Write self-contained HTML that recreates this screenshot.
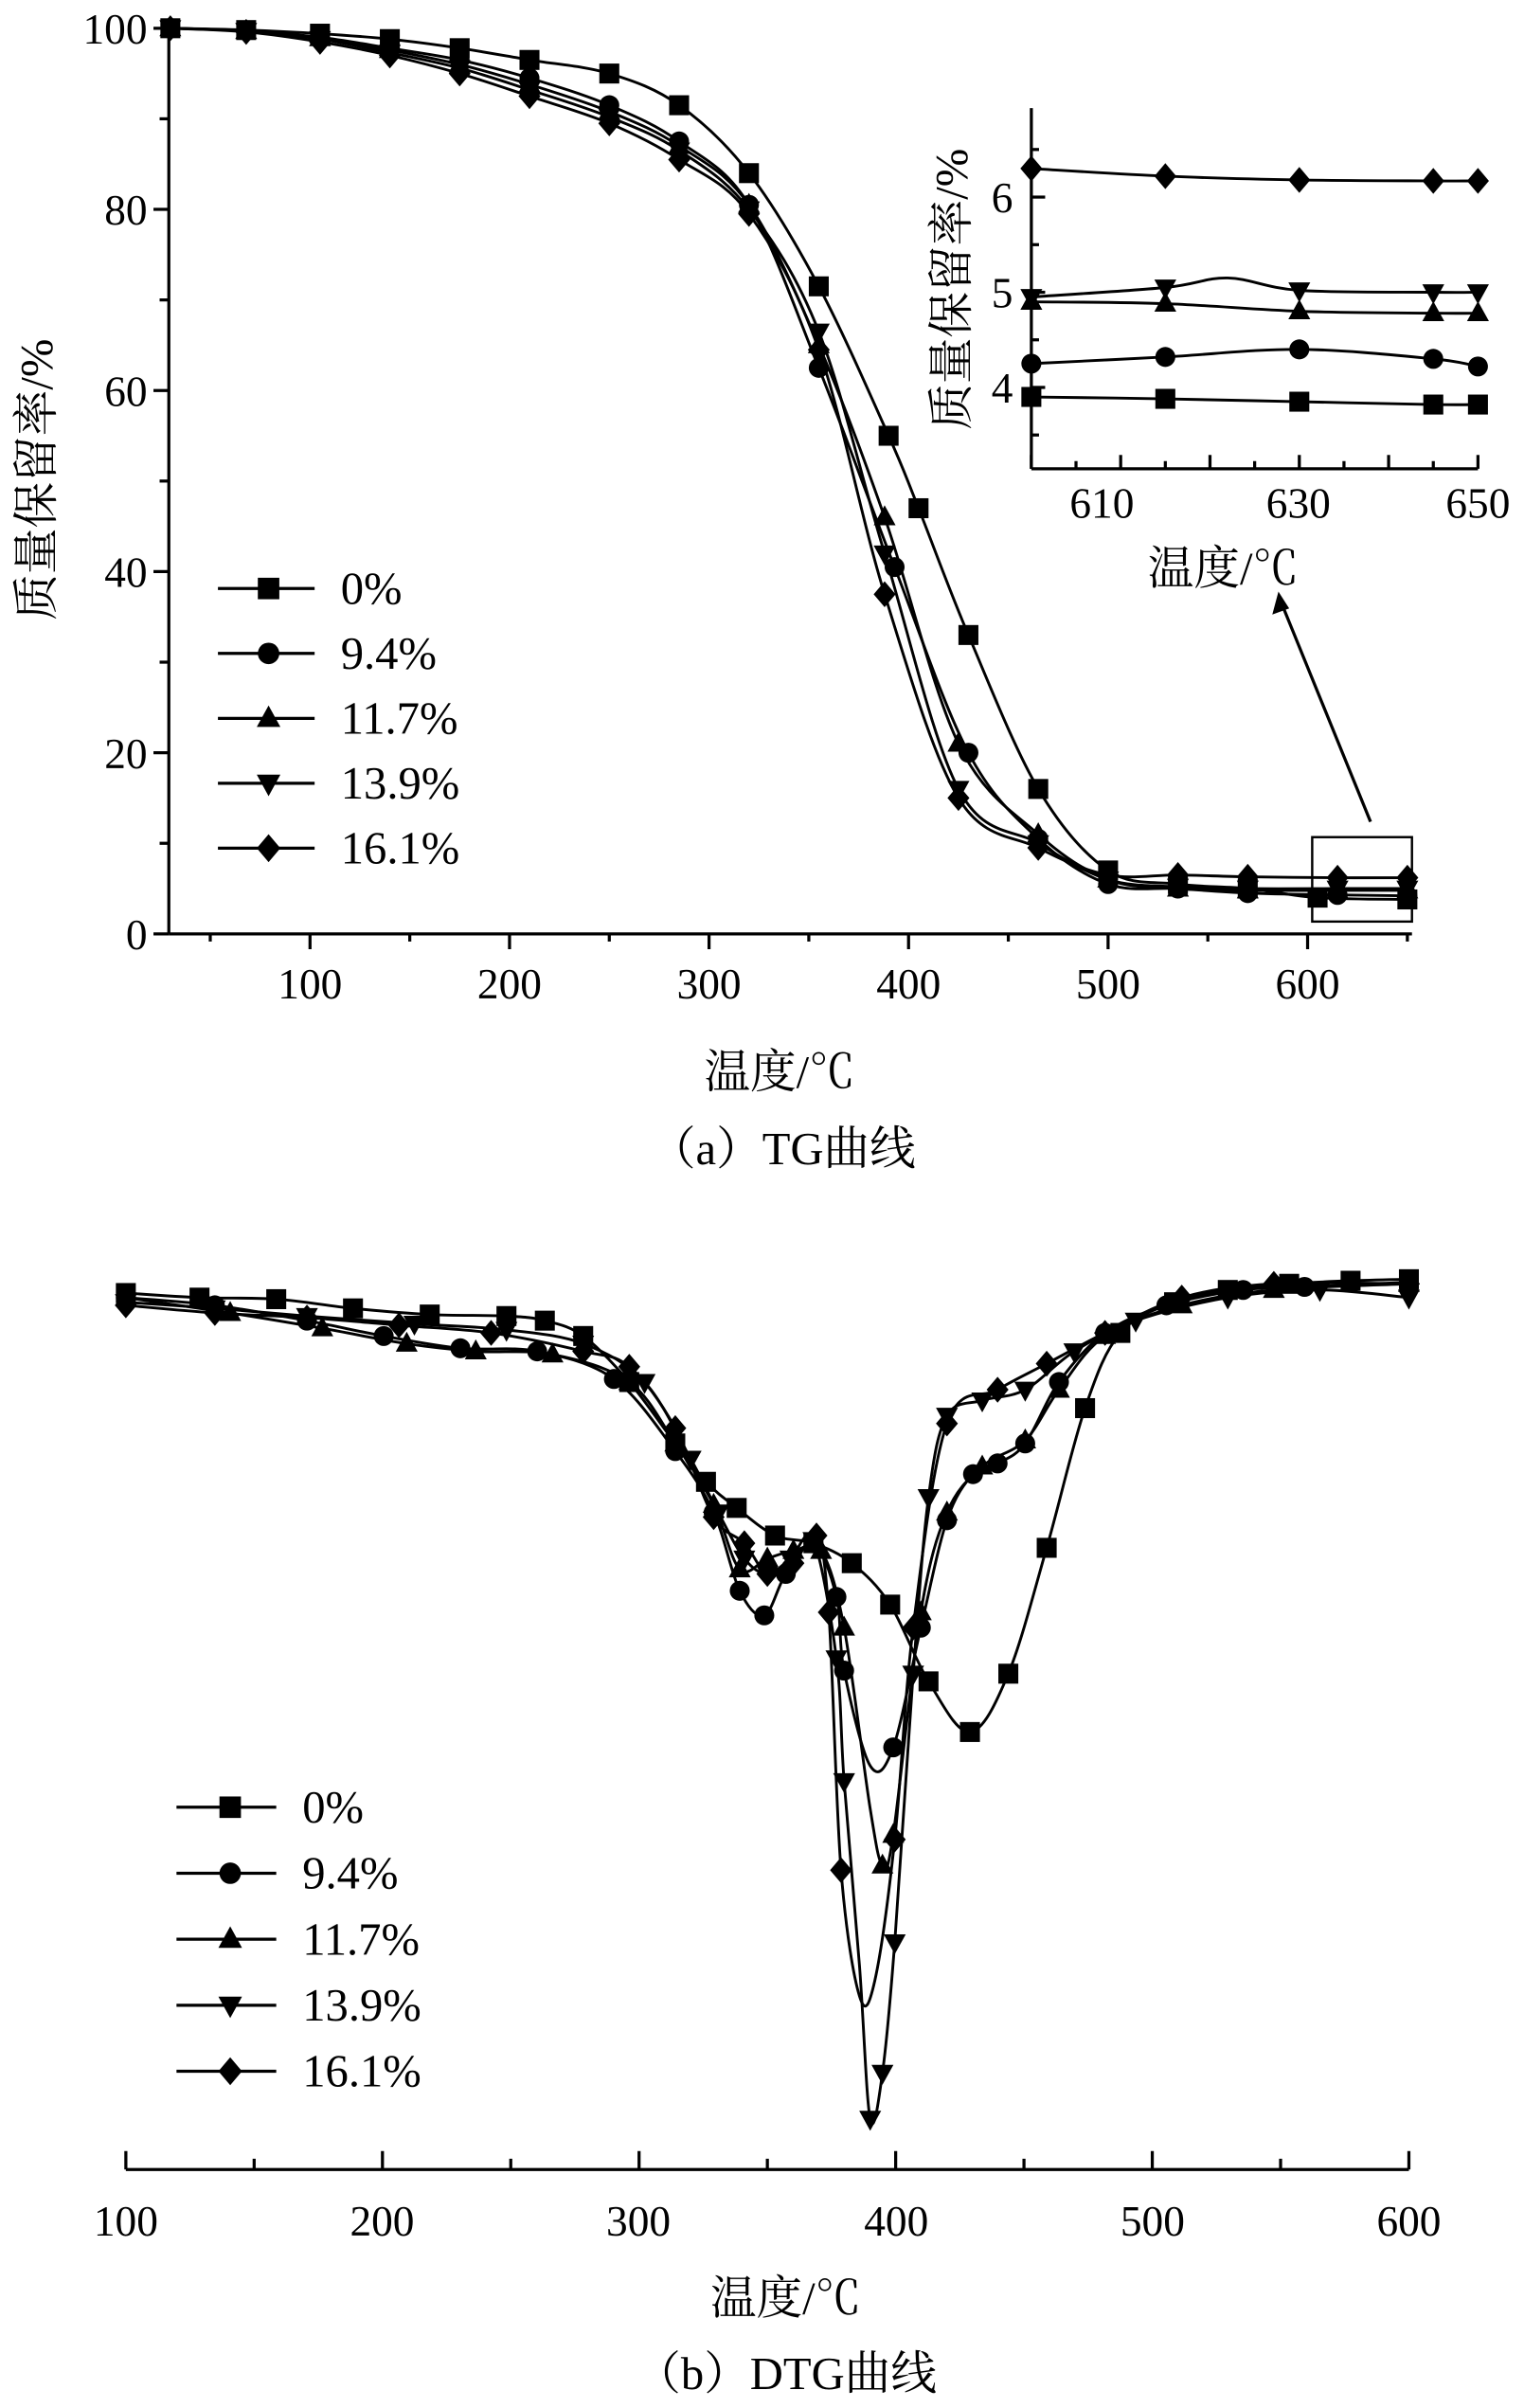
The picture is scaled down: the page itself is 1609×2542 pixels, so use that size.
<!DOCTYPE html>
<html><head><meta charset="utf-8">
<style>
html,body{margin:0;padding:0;background:#fff;}
svg{display:block;}
text{font-family:"Liberation Serif","Noto Serif CJK SC","Noto Sans CJK SC",serif;fill:#000;}
</style></head>
<body>
<svg id="s" width="1609" height="2542" viewBox="0 0 993 1568" xmlns="http://www.w3.org/2000/svg">
<g id="g" stroke="#000" fill="none" stroke-width="2"></g>
<g font-size="28">
<text x="202" y="650" text-anchor="middle">100</text>
<text x="332" y="650" text-anchor="middle">200</text>
<text x="462" y="650" text-anchor="middle">300</text>
<text x="592" y="650" text-anchor="middle">400</text>
<text x="722" y="650" text-anchor="middle">500</text>
<text x="852" y="650" text-anchor="middle">600</text>
<text x="96" y="28" text-anchor="end">100</text>
<text x="96" y="146" text-anchor="end">80</text>
<text x="96" y="264" text-anchor="end">60</text>
<text x="96" y="382" text-anchor="end">40</text>
<text x="96" y="500" text-anchor="end">20</text>
<text x="96" y="618" text-anchor="end">0</text>
<text x="718" y="337" text-anchor="middle">610</text>
<text x="846" y="337" text-anchor="middle">630</text>
<text x="963" y="337" text-anchor="middle">650</text>
<text x="660" y="262" text-anchor="end">4</text>
<text x="660" y="200" text-anchor="end">5</text>
<text x="660" y="138" text-anchor="end">6</text>
<text x="82" y="1456" text-anchor="middle">100</text>
<text x="249" y="1456" text-anchor="middle">200</text>
<text x="416" y="1456" text-anchor="middle">300</text>
<text x="584" y="1456" text-anchor="middle">400</text>
<text x="751" y="1456" text-anchor="middle">500</text>
<text x="918" y="1456" text-anchor="middle">600</text>
</g>
<g font-size="30">
<text x="508" y="708" text-anchor="middle">温度/℃</text>
<text x="510" y="758" text-anchor="middle">（a）TG曲线</text>
<text x="797" y="380" text-anchor="middle">温度/℃</text>
<text x="512" y="1507" text-anchor="middle">温度/℃</text>
<text x="512" y="1556" text-anchor="middle">（b）DTG曲线</text>
<text transform="translate(34,312) rotate(-90)" text-anchor="middle">质量保留率/%</text>
<text transform="translate(630,188) rotate(-90)" text-anchor="middle">质量保留率/%</text>
</g>
<g font-size="30" id="leg"></g>
</svg>
<script>
const NS="http://www.w3.org/2000/svg",g=document.getElementById('g'),leg=document.getElementById('leg');
function el(t,a,p){const e=document.createElementNS(NS,t);for(const k in a)e.setAttribute(k,a[k]);(p||g).appendChild(e);return e;}
function line(x1,y1,x2,y2){el('line',{x1,y1,x2,y2});}
function marker(type,x,y,s){s=s||6.5;
 if(type==0)el('rect',{x:x-s,y:y-s,width:2*s,height:2*s,fill:'#000',stroke:'none'});
 else if(type==1)el('circle',{cx:x,cy:y,r:s,fill:'#000',stroke:'none'});
 else if(type==2)el('polygon',{points:`${x},${y-s*1.2} ${x-s*1.1},${y+s*0.8} ${x+s*1.1},${y+s*0.8}`,fill:'#000',stroke:'none'});
 else if(type==3)el('polygon',{points:`${x},${y+s*1.2} ${x-s*1.1},${y-s*0.8} ${x+s*1.1},${y-s*0.8}`,fill:'#000',stroke:'none'});
 else el('polygon',{points:`${x},${y-s*1.3} ${x-s*1.1},${y} ${x},${y+s*1.3} ${x+s*1.1},${y}`,fill:'#000',stroke:'none'});}
function smooth(P){let d=`M${P[0][0]},${P[0][1]}`;for(let i=0;i<P.length-1;i++){const p0=P[i-1]||P[i],p1=P[i],p2=P[i+1],p3=P[i+2]||p2;
 d+=` C${p1[0]+(p2[0]-p0[0])/6},${p1[1]+(p2[1]-p0[1])/6} ${p2[0]-(p3[0]-p1[0])/6},${p2[1]-(p3[1]-p1[1])/6} ${p2[0]},${p2[1]}`;}
 el('path',{d,'stroke-width':1.8});}
function series(P,type,mk,s){smooth(P);P.forEach((p,i)=>{if(!mk||mk(i))marker(type,p[0],p[1],s);});}
// TG axes
line(110,18,110,608);line(110,608,920,608);
for(let v=0;v<=100;v+=10){const y=608-5.9*v;line(110,y,v%20?104:100,y);}
for(let T=50;T<=650;T+=50){const x=72+1.3*T;line(x,608,x,T%100?613:618);}
const tx=T=>72+1.3*T,ty=v=>608-5.9*v;
const TG=[
[[30,100],[68,99.8],[105,99.4],[140,98.8],[175,97.8],[210,96.5],[250,95],[285,91.5],[320,84],[355,71.5],[390,55],[405,47],[430,33],[465,16],[500,7],[535,5.5],[570,5],[605,4],[650,3.8]],
[[30,100],[68,99.7],[105,99],[140,97.8],[175,96.5],[210,94.5],[250,91.5],[285,87.5],[320,80.5],[355,62.5],[393,40.5],[430,20],[465,10.5],[500,5.5],[535,5],[570,4.5],[615,4.3],[650,4.2]],
[[30,100],[68,99.7],[105,98.9],[140,97.6],[175,96],[210,93.8],[250,90.8],[285,87],[320,80.5],[355,65],[388,46],[425,21],[465,11],[500,6],[535,5],[570,4.8],[615,4.8],[650,4.8]],
[[30,100],[68,99.7],[105,98.8],[140,97.3],[175,95.6],[210,93.2],[250,90.2],[285,86.5],[320,80],[355,66.5],[388,42],[425,16],[465,10],[500,6],[535,5.2],[570,5],[615,5],[650,5]],
[[30,100],[68,99.6],[105,98.5],[140,97],[175,95],[210,92.5],[250,89.5],[285,85.5],[320,79.5],[355,64.5],[388,37.5],[425,15],[465,9.5],[500,6.5],[535,6.5],[570,6.3],[615,6.2],[650,6.2]]];
TG.forEach((S,k)=>series(S.map(p=>[tx(p[0]),ty(p[1])]),k));
// inset
line(672,70,672,305);line(672,305,963,305);
for(let v=3.5;v<=6.5;v+=0.5){const y=252-62*(v-4);if(y<70||y>305)continue;line(672,y,(v*2)%2?677:681,y);}
for(let T=600;T<=650;T+=5){const x=672+5.82*(T-600);line(x,305,x,T%10?300:296);}
const ix=T=>672+5.82*(T-600),iy=v=>252-62*(v-4);
const IN=[
[[600,3.9],[615,3.88],[630,3.85],[645,3.82],[650,3.82]],
[[600,4.25],[615,4.32],[630,4.4],[645,4.3],[650,4.22]],
[[600,4.9],[615,4.88],[630,4.8],[645,4.78],[650,4.78]],
[[600,4.95],[615,5.05],[622,5.15],[630,5.02],[645,5.0],[650,5.0]],
[[600,6.3],[615,6.22],[630,6.18],[645,6.17],[650,6.17]]];
IN.forEach((S,k)=>series(S.map(p=>[ix(p[0]),iy(p[1])]),k,k==3?(i=>i!=2):null));
el('rect',{x:855,y:545,width:65,height:55,'stroke-width':1.5});
line(893,535,836,395);el('polygon',{points:'833,385 829,400 840,396',fill:'#000',stroke:'none'});
// DTG
line(82,1413,918,1413);
for(let T=100;T<=600;T+=50){const x=82+1.672*(T-100);line(x,1413,x,T%100?1406:1401);}
const D=[
[[82,842],[130,845],[180,846],[230,852],[280,856],[330,857],[355,860],[380,870],[410,900],[440,940],[460,965],[480,982],[505,1000],[530,1005],[555,1018],[580,1045],[605,1095],[632,1128],[657,1090],[682,1008],[707,917],[730,868],[765,848],[800,840],[840,836],[880,834],[918,833]],
[[82,845],[140,850],[200,860],[250,870],[300,878],[350,880],[400,898],[440,945],[465,985],[482,1036],[498,1052],[512,1025],[530,1005],[545,1040],[550,1088],[567,1150],[582,1138],[600,1060],[617,990],[634,960],[650,953],[668,940],[690,900],[720,868],[760,850],[810,840],[850,838],[918,835]],
[[82,845],[150,855],[210,865],[265,875],[310,880],[360,882],[410,900],[440,940],[465,980],[482,1022],[500,1015],[517,1010],[535,1010],[550,1060],[567,1178],[575,1215],[582,1195],[600,1050],[617,985],[640,955],[668,938],[690,905],[720,870],[770,850],[830,840],[918,836]],
[[82,848],[140,852],[200,857],[270,862],[330,866],[380,875],[420,900],[450,950],[468,985],[485,1015],[500,1025],[515,1015],[530,1003],[545,1080],[550,1160],[560,1280],[567,1380],[575,1350],[583,1265],[595,1090],[605,975],[617,922],[640,912],[668,905],[700,880],[740,860],[800,845],[860,840],[918,845]],
[[82,850],[140,855],[200,858],[260,863],[320,868],[380,880],[410,890],[440,930],[465,988],[485,1005],[500,1025],[517,1018],[532,1000],[540,1050],[548,1218],[560,1300],[570,1290],[583,1198],[595,1060],[617,927],[650,905],[682,888],[720,868],[770,845],[830,836],[918,836]]];
D.forEach((S,k)=>series(S,k,i=>!(S[i][0]>555&&S[i][0]<575&&!(k==3&&S[i][1]>1370))));
// legends
const names=['0%','9.4%','11.7%','13.9%','16.1%'];
names.forEach((n,k)=>{let y=383+42.3*k;line(142,y,205,y);marker(k,175,y,7);
 el('text',{x:222,y:y+10},leg).textContent=n;
 y=1177+43*k;line(115,y,180,y);marker(k,150,y,7);
 el('text',{x:197,y:y+10},leg).textContent=n;});
</script>
</body></html>
